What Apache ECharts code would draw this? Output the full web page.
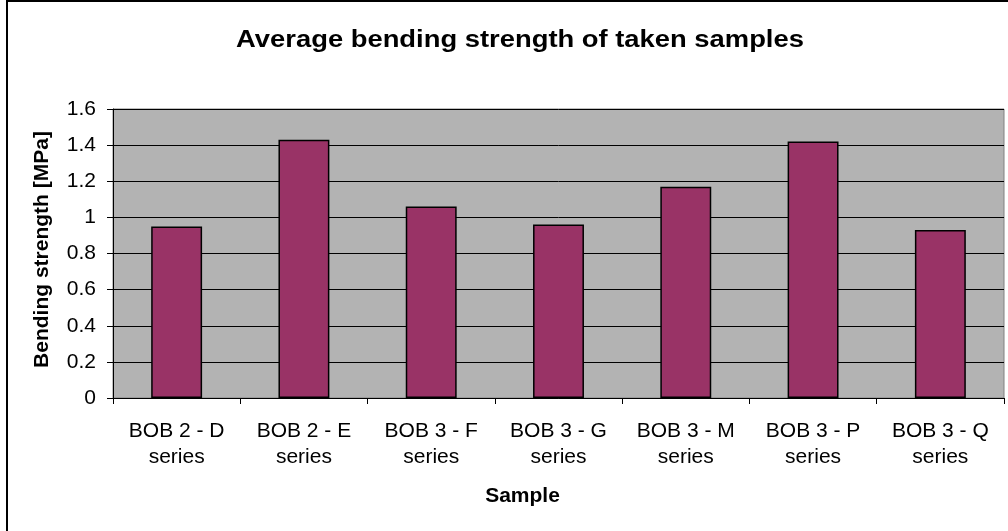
<!DOCTYPE html>
<html><head><meta charset="utf-8">
<script src="https://cdn.jsdelivr.net/npm/echarts@6/dist/echarts.min.js"></script>
<style>html,body{margin:0;padding:0;background:#fff}#c{width:1008px;height:531px}</style>
</head><body><div id="c"></div>
<script>
const categories = ["BOB 2 - D\nseries","BOB 2 - E\nseries","BOB 3 - F\nseries","BOB 3 - G\nseries","BOB 3 - M\nseries","BOB 3 - P\nseries","BOB 3 - Q\nseries"];
const strength = [0.95, 1.43, 1.06, 0.96, 1.17, 1.42, 0.93];
const yTicks = [0, 0.2, 0.4, 0.6, 0.8, 1, 1.2, 1.4, 1.6];
const titleText = 'Average bending strength of taken samples';

const chart = echarts.init(document.getElementById('c'), null, {renderer:'canvas'});
const font = 'Liberation Sans, Arial, sans-serif';
chart.setOption({
  backgroundColor:'#fff',
  animation:false,
  grid:{left:113, right:4, top:109, bottom:133, show:true, backgroundColor:'#b3b3b3', borderColor:'#808080', borderWidth:1},
  xAxis:{type:'category', data:categories, name:'Sample', nameLocation:'middle', nameGap:88,
    nameTextStyle:{fontFamily:font, fontSize:21, fontWeight:'bold', color:'#000', padding:[0,72,0,0]},
    axisLine:{lineStyle:{color:'#000', width:1}},
    axisTick:{show:true, alignWithLabel:false, length:6, lineStyle:{color:'#000'}},
    axisLabel:{interval:0, fontFamily:font, fontSize:21, color:'#000', lineHeight:26, margin:20}},
  yAxis:{type:'value', min:0, max:1.6, interval:0.2, name:'Bending strength [MPa]', nameLocation:'middle', nameGap:60,
    nameTextStyle:{fontFamily:font, fontSize:21, fontWeight:'bold', color:'#000', padding:[0,0,0,8]},
    axisLine:{show:true, lineStyle:{color:'#000', width:1}},
    axisTick:{show:true, length:6, lineStyle:{color:'#000'}},
    splitLine:{show:true, lineStyle:{color:'#000', width:1}},
    axisLabel:{fontFamily:font, fontSize:21, color:'#000', margin:17,
      formatter:function(v){ const t = yTicks.find(x=>Math.abs(x-v)<1e-9); return t===undefined? '' : String(t);} }},
  series:[{type:'bar', data:strength, barWidth:'40%',
    itemStyle:{color:'#993366', borderColor:'#000', borderWidth:1.5}}],
  graphic:[
    {type:'line', shape:{x1:7, y1:0, x2:7, y2:531}, style:{stroke:'#000', lineWidth:2}},
    {type:'line', shape:{x1:7, y1:1, x2:1008, y2:1}, style:{stroke:'#000', lineWidth:2}},
    {type:'text', x:520, y:41, scaleX:1.19, style:{text:titleText, fontFamily:font, fontSize:23, fontWeight:'bold', fill:'#000', textAlign:'center', textVerticalAlign:'middle'}}
  ]
});
</script></body></html>
